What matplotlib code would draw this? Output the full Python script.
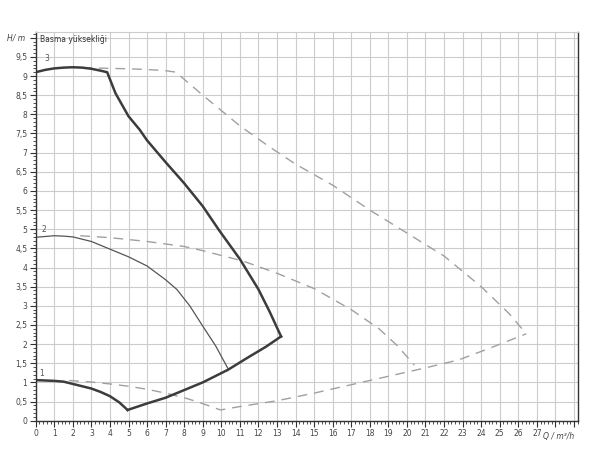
import numpy as np
import matplotlib.pyplot as plt
from matplotlib.ticker import MultipleLocator, FuncFormatter

# pompa egrileri (Q m3/h, H m)
q3 = [0, 0.5, 1, 1.5, 2, 2.5, 3, 3.5, 3.85, 4.3, 5.0, 5.6, 6.0, 7.0, 8.0, 9.0, 9.9, 11.0, 12.0, 12.6, 13.22]
h3 = [9.1, 9.16, 9.2, 9.22, 9.23, 9.22, 9.19, 9.14, 9.1, 8.55, 7.95, 7.6, 7.32, 6.75, 6.2, 5.6, 4.96, 4.22, 3.43, 2.85, 2.2]

q_low = [4.95, 6, 7, 8, 9, 10.36, 11.5, 12.4, 13.22]
h_low = [0.28, 0.45, 0.6, 0.8, 1.0, 1.33, 1.67, 1.93, 2.2]

q1 = [0, 0.5, 1, 1.5, 2, 2.5, 3, 3.5, 4, 4.5, 4.95]
h1 = [1.06, 1.05, 1.04, 1.02, 0.96, 0.9, 0.84, 0.75, 0.64, 0.48, 0.28]

q2 = [0, 0.5, 1, 1.5, 2, 3, 4, 5, 6, 7, 7.6, 8.3, 9, 9.7, 10.36]
h2 = [4.79, 4.81, 4.83, 4.82, 4.80, 4.68, 4.48, 4.28, 4.04, 3.68, 3.43, 3.0, 2.47, 1.95, 1.36]

# kesikli egriler
qd3 = [2.5, 4, 5, 6, 7, 7.58, 7.94, 9, 10, 11, 12.6, 14, 16, 18, 20, 22, 24, 25.5, 26.43]
hd3 = [9.22, 9.2, 9.19, 9.17, 9.14, 9.1, 8.94, 8.5, 8.1, 7.7, 7.15, 6.7, 6.15, 5.5, 4.9, 4.3, 3.5, 2.8, 2.27]

qd1 = [1.8, 3, 4, 5, 6, 7, 8, 8.8, 9.96, 11, 13, 15, 17, 19, 21, 22.8, 24.5, 26.43]
hd1 = [1.05, 1.01, 0.96, 0.9, 0.82, 0.72, 0.6, 0.48, 0.28, 0.37, 0.52, 0.72, 0.94, 1.16, 1.38, 1.59, 1.9, 2.27]

qd2 = [2.4, 4, 6, 8, 9, 11.16, 13, 15, 17, 18.5, 19.5, 20.4]
hd2 = [4.83, 4.78, 4.68, 4.55, 4.44, 4.17, 3.85, 3.45, 2.9, 2.4, 1.95, 1.45]

fig = plt.figure(figsize=(6.01, 4.70), dpi=100)
ax = fig.add_axes([0.0594, 0.1049, 0.9018, 0.827])

dark = "#3c3c3c"
dash = "#a0a0a0"
ax.plot(qd3, hd3, color=dash, lw=1, dashes=(7, 5))
ax.plot(qd1, hd1, color=dash, lw=1, dashes=(7, 5))
ax.plot(qd2, hd2, color=dash, lw=1, dashes=(7, 5))
ax.plot(q2, h2, color="#555555", lw=0.9)
ax.plot(q3, h3, color=dark, lw=1.8)
ax.plot(q_low, h_low, color=dark, lw=1.8)
ax.plot(q1, h1, color=dark, lw=1.8)

for x, y, s in [(0.45, 9.38, "3"), (0.3, 4.92, "2"), (0.2, 1.17, "1")]:
    ax.text(x, y, s, fontsize=5.5, color="#555555")

ax.text(0.25, 9.95, "Basma yüksekliği", fontsize=5.5, color="#333333", va="center")

ax.set_xlim(0, 29.2)
ax.set_ylim(0, 10.15)
ax.xaxis.set_major_locator(MultipleLocator(1))
ax.xaxis.set_minor_locator(MultipleLocator(0.2))
ax.yaxis.set_major_locator(MultipleLocator(0.5))
ax.yaxis.set_minor_locator(MultipleLocator(0.1))

ax.xaxis.set_major_formatter(FuncFormatter(lambda v, p: f"{int(round(v))}" if v <= 27.01 else ""))
ax.yaxis.set_major_formatter(FuncFormatter(lambda v, p: (f"{v:g}".replace(".", ",")) if v <= 9.51 else ""))

ax.tick_params(which="major", length=4, width=0.8, labelsize=5.5, labelcolor="#444444", color="#333333", pad=2)
ax.tick_params(which="minor", length=2, width=0.6, color="#333333")
ax.grid(True, which="major", color="#cccccc", lw=0.8)
ax.set_axisbelow(True)

for s in ["left", "bottom", "right"]:
    ax.spines[s].set_color("#333333")
    ax.spines[s].set_linewidth(1)
ax.spines["top"].set_color("#cccccc")
ax.spines["top"].set_linewidth(0.8)

ax.text(-0.02, 10.0, "H/ m", transform=ax.get_yaxis_transform(), fontsize=5.5,
        color="#444444", ha="right", va="center", style="italic")
ax.text(28.2, -0.03, "Q / m³/h", transform=ax.get_xaxis_transform(), fontsize=5.5,
        color="#444444", ha="center", va="top", style="italic")

fig.savefig("out.png", dpi=100)
